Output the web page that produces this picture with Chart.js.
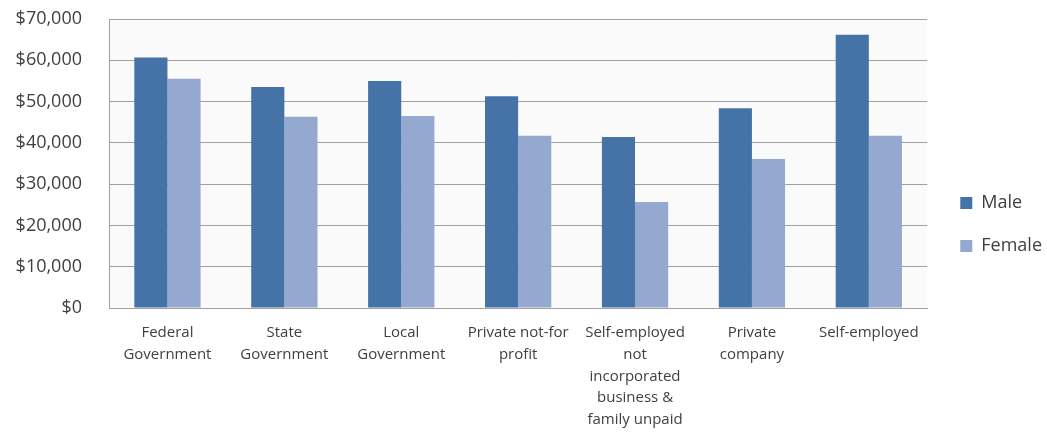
<!DOCTYPE html>
<html>
<head>
<meta charset="utf-8">
<script src="https://cdn.jsdelivr.net/npm/chart.js@4"></script>
<style>
  html, body { margin: 0; padding: 0; background: #ffffff; }
  #wrap { width: 1047px; height: 436px; }
</style>
</head>
<body>
<div id="wrap"><canvas id="earningsChart"></canvas></div>
<script>
var sectors = [
    ["Federal", "Government"],
    ["State", "Government"],
    ["Local", "Government"],
    ["Private not-for", "profit"],
    ["Self-employed", "not", "incorporated", "business &", "family unpaid"],
    ["Private", "company"],
    ["Self-employed"]
];
var maleEarnings = [60700, 53500, 55000, 51300, 41400, 48400, 66200];
var femaleEarnings = [55500, 46300, 46500, 41700, 25700, 36100, 41700];
var yTicks = [0, 10000, 20000, 30000, 40000, 50000, 60000, 70000];

var textColor = '#404040';
var fontFamily = "'Open Sans', 'Liberation Sans', sans-serif";

// light plot-area background like the original
var plotBackground = {
    id: 'plotBackground',
    beforeDraw: function (chart) {
        var a = chart.chartArea;
        var ctx = chart.ctx;
        ctx.save();
        ctx.fillStyle = '#fafafa';
        ctx.fillRect(a.left, a.top, a.right - a.left, a.bottom - a.top);
        ctx.restore();
    }
};

// nudge the legend a bit away from the plot, like the original
var legendNudge = {
    id: 'legendNudge',
    afterLayout: function (chart) {
        var lg = chart.legend;
        if (!lg) return;
        lg.left += 8;
        lg.right += 8;
        lg.top -= 3;
        lg.bottom -= 3;
    }
};

var ctx = document.getElementById('earningsChart').getContext('2d');
var earningsChart = new Chart(ctx, {
    type: 'bar',
    data: {
        labels: sectors,
        datasets: [{
            label: 'Male',
            data: maleEarnings,
            backgroundColor: '#4572a7',
            categoryPercentage: 0.567,
            barPercentage: 1.0
        }, {
            label: 'Female',
            data: femaleEarnings,
            backgroundColor: '#95a9d0',
            categoryPercentage: 0.567,
            barPercentage: 1.0
        }]
    },
    options: {
        responsive: true,
        maintainAspectRatio: false,
        animation: false,
        layout: {
            padding: { top: 19, right: 3, bottom: 0, left: 0 }
        },
        plugins: {
            tooltip: { enabled: false },
            legend: {
                position: 'right',
                align: 'center',
                labels: {
                    color: textColor,
                    font: { family: fontFamily, size: 18 },
                    boxWidth: 12,
                    boxHeight: 12,
                    padding: 25
                }
            }
        },
        scales: {
            x: {
                afterFit: function (scale) { scale.height = 128; },
                grid: { display: false, drawTicks: false },
                border: { display: true, color: '#a0a0a0', width: 1 },
                ticks: {
                    color: textColor,
                    font: { family: fontFamily, size: 15, lineHeight: 1.45 },
                    padding: 14,
                    maxRotation: 0,
                    autoSkip: false
                }
            },
            y: {
                min: 0,
                max: 70000,
                afterFit: function (scale) { scale.width = 109; },
                afterBuildTicks: function (scale) {
                    scale.ticks = yTicks.map(function (v) { return { value: v }; });
                },
                grid: {
                    color: '#a0a0a0',
                    lineWidth: 1,
                    drawTicks: true,
                    tickLength: 27,
                    tickColor: 'rgba(0,0,0,0)'
                },
                border: { display: true, color: '#a0a0a0', width: 1 },
                ticks: {
                    color: textColor,
                    font: { family: fontFamily, size: 18 },
                    padding: 0,
                    callback: function (v) { return '$' + v.toLocaleString('en-US'); }
                }
            }
        }
    },
    plugins: [plotBackground, legendNudge]
});
</script>
</body>
</html>
